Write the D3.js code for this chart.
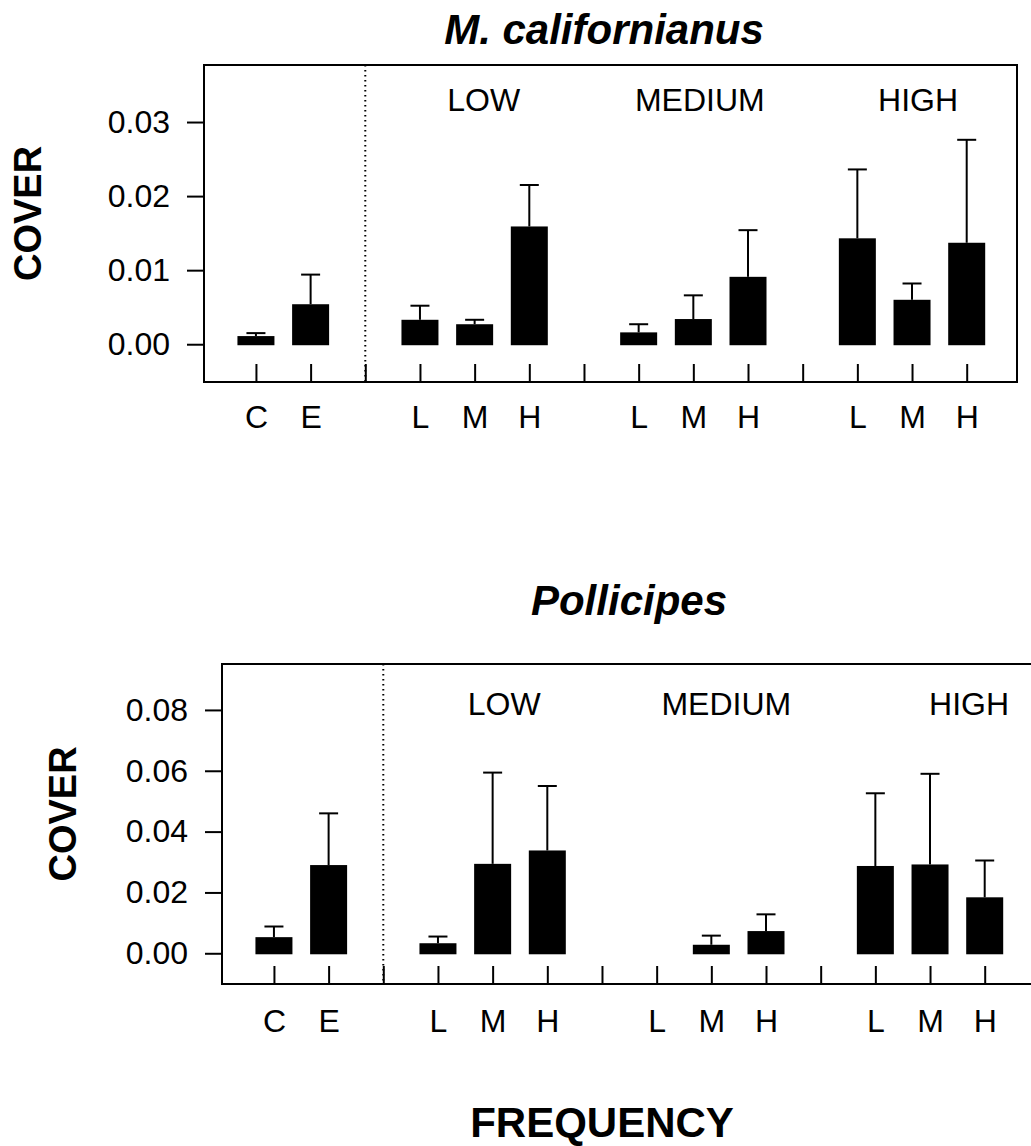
<!DOCTYPE html>
<html>
<head>
<meta charset="utf-8">
<script src="https://cdn.jsdelivr.net/npm/d3@7"></script>
<style>
  body { margin: 0; background: #fff; }
  svg { display: block; font-family: 'Liberation Sans', Arial, Helvetica, sans-serif; }
  .frame { fill: none; stroke: #000; stroke-width: 2; }
  .axis path.domain { display: none; }
  .axis line { stroke: #000; stroke-width: 2; }
  .axis text { fill: #000; font-size: 32px; }
  .bar { fill: #000; }
  .err { stroke: #000; stroke-width: 2; fill: none; }
  .divider { stroke: #000; stroke-width: 2; stroke-dasharray: 1.5 3.5; }
</style>
</head>
<body>
<div id="chart"></div>
<script>
// slot labels along the x axis (blank slots separate the groups)
const categories = ['C', 'E', '', 'L', 'M', 'H', '', 'L', 'M', 'H', '', 'L', 'M', 'H'];
const groupLabels = ['LOW', 'MEDIUM', 'HIGH'];
const groupSlots = [4, 8, 12];

// M. californianus cover, mean and SE
const mcalMean = [0.0011, 0.0054, null, 0.0033, 0.0027, 0.0159, null, 0.0016, 0.0034, 0.0091, null, 0.0143, 0.0060, 0.0137];
const mcalSE = [0.0004, 0.0040, null, 0.0019, 0.0006, 0.0056, null, 0.0011, 0.0032, 0.0063, null, 0.0093, 0.0022, 0.0139];
const mcalTicks = [0, 0.01, 0.02, 0.03];

// Pollicipes cover, mean and SE
const polMean = [0.0053, 0.0290, null, 0.0033, 0.0294, 0.0338, null, 0, 0.0028, 0.0073, null, 0.0287, 0.0292, 0.0184];
const polSE = [0.0035, 0.0170, null, 0.0022, 0.0300, 0.0212, null, 0, 0.0030, 0.0055, null, 0.0239, 0.0298, 0.0121];
const polTicks = [0, 0.02, 0.04, 0.06, 0.08];

const width = 1031;
const height = 1146;

const svg = d3.select('#chart')
  .append('svg')
  .attr('width', width)
  .attr('height', height);

const panels = [
  {
    title: 'M. californianus', titleX: 604, titleY: 44,
    mean: mcalMean, se: mcalSE, ticks: mcalTicks,
    left: 204, right: 1017, top: 65, bottom: 382,
    yDomain: [-0.0051, 0.0377],
    coverX: 27, labelPad: 23,
    groupShift: [9, 6.5, 6], groupY: 111
  },
  {
    title: 'Pollicipes', titleX: 629, titleY: 615,
    mean: polMean, se: polSE, ticks: polTicks,
    left: 222, right: 1035, top: 664, bottom: 984,
    yDomain: [-0.0101, 0.0951],
    coverX: 62, labelPad: 25,
    groupShift: [11.6, 15, 39], groupY: 715
  }
];

panels.forEach(drawPanel);

svg.append('text')
  .attr('x', 602)
  .attr('y', 1137)
  .attr('text-anchor', 'middle')
  .attr('font-size', '42px')
  .attr('font-weight', 'bold')
  .text('FREQUENCY');

function drawPanel(p) {
  const x = d3.scaleLinear().domain([-0.95, 13.92]).range([p.left, p.right]);
  const y = d3.scaleLinear().domain(p.yDomain).range([p.bottom, p.top]);
  const barW = 37;
  const capW = 19;

  const g = svg.append('g');

  // title
  g.append('text')
    .attr('x', p.titleX)
    .attr('y', p.titleY)
    .attr('text-anchor', 'middle')
    .attr('font-size', '42px')
    .attr('font-weight', 'bold')
    .attr('font-style', 'italic')
    .text(p.title);

  // y axis label
  g.append('text')
    .attr('transform', 'translate(' + p.coverX + ',' + ((p.top + p.bottom) / 2 - 10) + ') rotate(-90)')
    .attr('dy', '0.36em')
    .attr('text-anchor', 'middle')
    .attr('font-size', '38px')
    .attr('font-weight', 'bold')
    .text('COVER');

  // y axis, ticks outside the frame
  g.append('g')
    .attr('class', 'axis')
    .attr('transform', 'translate(' + p.left + ',0)')
    .call(d3.axisLeft(y)
      .tickValues(p.ticks)
      .tickSize(17)
      .tickPadding(17)
      .tickFormat(d3.format('.2f')));

  // x axis, ticks pointing up into the frame
  g.append('g')
    .attr('class', 'axis')
    .attr('transform', 'translate(0,' + p.bottom + ')')
    .call(d3.axisBottom(x)
      .tickValues(d3.range(categories.length))
      .tickSizeInner(-18)
      .tickSizeOuter(0)
      .tickPadding(p.labelPad)
      .tickFormat(i => categories[i]));

  // frame
  g.append('rect')
    .attr('class', 'frame')
    .attr('x', p.left)
    .attr('y', p.top)
    .attr('width', p.right - p.left)
    .attr('height', p.bottom - p.top);

  // dotted divider between controls and treatments
  g.append('line')
    .attr('class', 'divider')
    .attr('x1', x(2))
    .attr('x2', x(2))
    .attr('y1', p.top)
    .attr('y2', p.bottom);

  // group labels
  g.selectAll('text.group')
    .data(groupLabels)
    .join('text')
    .attr('class', 'group')
    .attr('x', (d, i) => x(groupSlots[i]) + p.groupShift[i])
    .attr('y', p.groupY)
    .attr('text-anchor', 'middle')
    .attr('font-size', '32px')
    .text(d => d);

  const rows = p.mean
    .map((m, i) => ({ i: i, mean: m, se: p.se[i] }))
    .filter(d => d.mean != null && d.mean > 0);

  // error bars (drawn first so the bar covers the stem)
  g.selectAll('line.stem')
    .data(rows)
    .join('line')
    .attr('class', 'err stem')
    .attr('x1', d => x(d.i))
    .attr('x2', d => x(d.i))
    .attr('y1', d => y(d.mean))
    .attr('y2', d => y(d.mean + d.se));

  g.selectAll('line.cap')
    .data(rows)
    .join('line')
    .attr('class', 'err cap')
    .attr('x1', d => x(d.i) - capW / 2)
    .attr('x2', d => x(d.i) + capW / 2)
    .attr('y1', d => y(d.mean + d.se))
    .attr('y2', d => y(d.mean + d.se));

  g.selectAll('rect.bar')
    .data(rows)
    .join('rect')
    .attr('class', 'bar')
    .attr('x', d => x(d.i) - barW / 2)
    .attr('y', d => y(d.mean))
    .attr('width', barW)
    .attr('height', d => y(0) - y(d.mean) + 1);
}
</script>
</body>
</html>
